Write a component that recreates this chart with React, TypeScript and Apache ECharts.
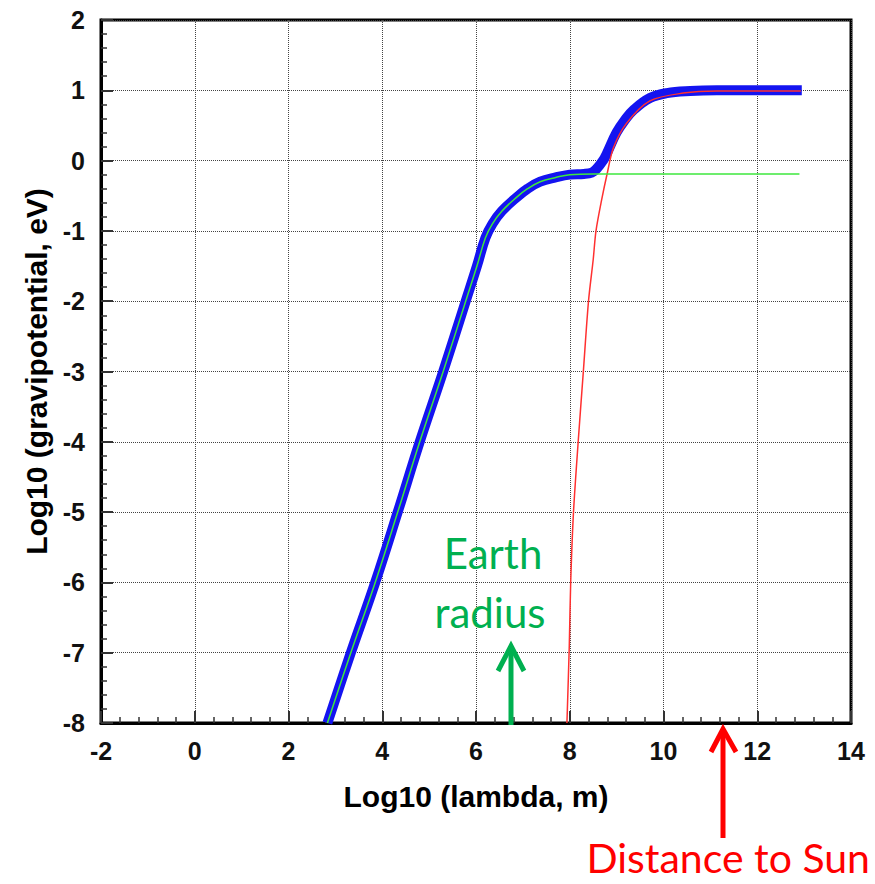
import React, { useEffect, useRef } from "react";
import * as echarts from "echarts";

// Log10(lambda, m) vs Log10(gravipotential, eV)
const totalX = [2.83, 3.33, 3.85, 4.33, 4.8, 5.3, 5.78, 6.02, 6.2, 6.35, 6.55, 6.87, 7.1, 7.37, 7.7, 8.0, 8.3, 8.47, 8.57, 8.71, 8.79, 9.0, 9.18, 9.36, 9.71, 10.07, 10.57, 11.14, 12.95];
const totalY = [-8, -7, -6, -5, -4, -3, -2, -1.5, -1.1, -0.9, -0.72, -0.52, -0.4, -0.3, -0.24, -0.2, -0.19, -0.17, -0.12, 0.0, 0.1, 0.4, 0.58, 0.72, 0.89, 0.96, 0.99, 1.0, 1.0];

const earthX = [2.83, 3.33, 3.85, 4.33, 4.8, 5.3, 5.78, 6.02, 6.2, 6.35, 6.55, 6.87, 7.1, 7.37, 7.7, 8.0, 8.5, 12.9];
const earthY = [-8, -7, -6, -5, -4, -3, -2, -1.5, -1.1, -0.9, -0.72, -0.52, -0.4, -0.3, -0.24, -0.2, -0.19, -0.19];

const sunX = [7.94, 7.99, 8.02, 8.08, 8.18, 8.29, 8.4, 8.5, 8.56, 8.68, 8.8, 8.93, 9.21, 9.71, 10.42, 11.14, 12.93];
const sunY = [-8, -6.9, -6.0, -5.0, -4.0, -3.0, -2.0, -1.41, -1.0, -0.56, -0.18, 0.18, 0.53, 0.85, 0.96, 0.99, 0.99];

const xTicks = { min: -2, max: 14, step: 2 };
const yTicks = { min: -8, max: 2, step: 1 };

const xName = "Log10 (lambda, m)";
const yName = "Log10 (gravipotential, eV)";
const earthLabel = ["Earth", "radius"];
const sunLabel = "Distance to Sun";

const zip = (xs: number[], ys: number[]) => xs.map((x, i) => [x, ys[i]]);

export default function App() {
  const ref = useRef<HTMLDivElement>(null);
  useEffect(() => {
    if (!ref.current) return;
    const chart = echarts.init(ref.current, undefined, { renderer: "svg" });
    const labelFont = {
      fontFamily: "Liberation Sans, Arial, sans-serif",
      fontWeight: "bold" as const,
      fontSize: 25,
      color: "#111",
    };
    const nameFont = { ...labelFont, fontSize: 30, color: "#000" };
    const green = "#00b050";
    const red = "#ff0000";
    chart.setOption({
      animation: false,
      backgroundColor: "#fff",
      grid: {
        left: 101,
        top: 20,
        width: 750,
        height: 703,
        show: true,
        borderColor: "#000",
        borderWidth: 3,
        backgroundColor: "transparent",
      },
      xAxis: {
        type: "value",
        min: xTicks.min,
        max: xTicks.max,
        interval: xTicks.step,
        name: xName,
        nameLocation: "middle",
        nameGap: 58,
        nameTextStyle: nameFont,
        axisLine: { show: true, onZero: false, lineStyle: { color: "#000", width: 3 } },
        axisTick: { show: true, inside: true, length: 12, lineStyle: { color: "#333", width: 2 } },
        minorTick: { show: true, splitNumber: 5, length: 6, lineStyle: { color: "#333", width: 1.5 } },
        axisLabel: { ...labelFont, margin: 15 },
        splitLine: { show: true, lineStyle: { color: "#444", type: "dotted", width: 1 } },
      },
      yAxis: {
        type: "value",
        min: yTicks.min,
        max: yTicks.max,
        interval: yTicks.step,
        name: yName,
        nameLocation: "middle",
        nameGap: 46,
        nameRotate: 90,
        nameTextStyle: nameFont,
        axisLine: { show: true, onZero: false, lineStyle: { color: "#000", width: 3 } },
        axisTick: { show: true, inside: true, length: 12, lineStyle: { color: "#333", width: 2 } },
        minorTick: { show: true, splitNumber: 5, length: 6, lineStyle: { color: "#333", width: 1.5 } },
        axisLabel: { ...labelFont, margin: 16 },
        splitLine: { show: true, lineStyle: { color: "#444", type: "dotted", width: 1 } },
      },
      series: [
        {
          type: "line",
          data: zip(totalX, totalY),
          smooth: 0.4,
          showSymbol: false,
          lineStyle: { color: "#1414f0", width: 10 },
          z: 2,
        },
        {
          type: "line",
          data: zip(sunX, sunY),
          smooth: 0.3,
          showSymbol: false,
          lineStyle: { color: "#ff3030", width: 1.5 },
          z: 3,
        },
        {
          type: "line",
          data: zip(earthX, earthY),
          smooth: 0.4,
          showSymbol: false,
          lineStyle: { color: "#3ee83e", width: 1.5 },
          z: 4,
        },
      ],
      graphic: [
        {
          type: "text",
          x: 493,
          y: 553,
          style: { text: earthLabel[0], fill: green, font: "42px Lato, sans-serif", align: "center", verticalAlign: "middle" },
          z: 10,
        },
        {
          type: "text",
          x: 490,
          y: 612,
          style: { text: earthLabel[1], fill: green, font: "42px Lato, sans-serif", align: "center", verticalAlign: "middle" },
          z: 10,
        },
        {
          type: "line",
          shape: { x1: 511, y1: 725, x2: 511, y2: 647 },
          style: { stroke: green, lineWidth: 5 },
          z: 10,
        },
        {
          type: "polyline",
          shape: { points: [[498, 671], [511, 646], [524, 671]] },
          style: { stroke: green, lineWidth: 5, fill: null, lineJoin: "miter" },
          z: 10,
        },
        {
          type: "line",
          shape: { x1: 723, y1: 838, x2: 723, y2: 730 },
          style: { stroke: red, lineWidth: 5 },
          z: 10,
        },
        {
          type: "polyline",
          shape: { points: [[711, 752], [723, 729], [736, 752]] },
          style: { stroke: red, lineWidth: 5, fill: null, lineJoin: "miter" },
          z: 10,
        },
        {
          type: "text",
          x: 870,
          y: 857,
          style: { text: sunLabel, fill: red, font: "41px Lato, sans-serif", align: "right", verticalAlign: "middle" },
          z: 10,
        },
      ],
    });
    return () => chart.dispose();
  }, []);
  return (
    <div
      ref={ref}
      style={{ position: "absolute", left: 0, top: 0, width: 875, height: 884, background: "#fff" }}
    />
  );
}
